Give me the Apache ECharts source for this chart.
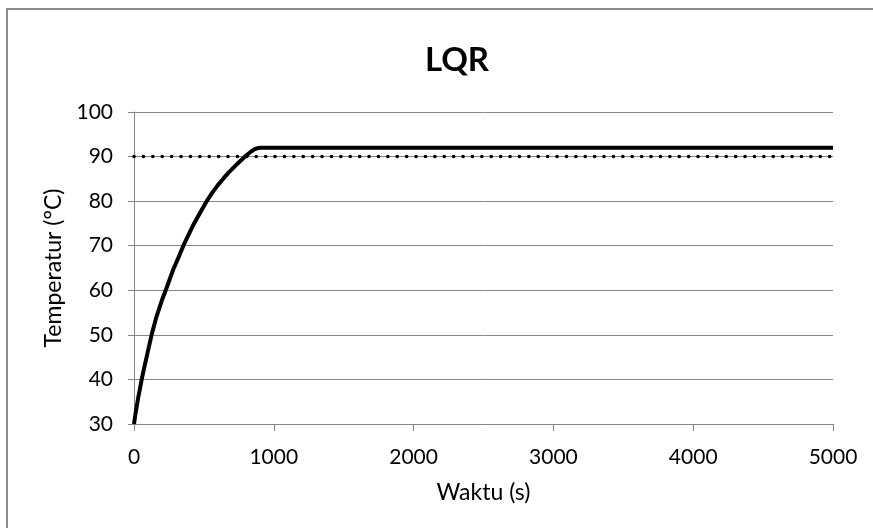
<!DOCTYPE html>
<html>
<head>
<meta charset="utf-8">
<title>LQR</title>
<script src="https://cdn.jsdelivr.net/npm/echarts@6/dist/echarts.min.js"></script>
<style>
  html, body { margin: 0; padding: 0; background: #fff; }
  #chart { width: 873px; height: 528px; }
</style>
</head>
<body>
<div id="chart"></div>
<script>
// data
const waktu = [0, 10, 20, 30, 40, 55, 70, 80, 100, 126, 160, 200, 227, 280, 320, 353, 400, 430, 480, 520, 560, 600, 640, 680, 740, 794, 820, 840, 860, 880, 900, 920, 950, 1000, 2000, 3000, 4000, 5000];
const suhu = [30, 32.2, 34, 35.9, 37.5, 40, 42.2, 43.6, 46.4, 50, 54, 57.8, 60, 64.6, 67.5, 70, 73.1, 75, 77.8, 80, 81.9, 83.6, 85.1, 86.5, 88.4, 90, 90.7, 91.2, 91.6, 91.85, 91.97, 92, 92, 92, 92, 92, 92, 92];
const setpointWaktu = [0, 5000];
const setpointSuhu = [90, 90];

const chart = echarts.init(document.getElementById('chart'));

const font = 'Lato';

const option = {
    animation: false,
    backgroundColor: '#fff',
    title: {
        text: 'LQR',
        left: 452,
        top: 39,
        textAlign: 'center',
        textStyle: { fontFamily: font, fontWeight: 'bold', fontSize: 33, color: '#000' }
    },
    grid: { left: 134, right: 40, top: 112, bottom: 104 },
    xAxis: {
        type: 'value',
        min: 0,
        max: 5000,
        interval: 1000,
        name: 'Waktu (s)',
        nameLocation: 'middle',
        nameGap: 57,
        nameTextStyle: { fontFamily: font, fontSize: 23, color: '#000' },
        axisLine: { lineStyle: { color: '#868686', width: 1 } },
        axisTick: { show: true, length: 7, lineStyle: { color: '#868686' } },
        axisLabel: { fontFamily: font, fontSize: 21, color: '#000', margin: 23, formatter: v => String(v) },
        splitLine: { show: false }
    },
    yAxis: {
        type: 'value',
        min: 30,
        max: 100,
        interval: 10,
        name: 'Temperatur (°C)',
        nameLocation: 'middle',
        nameGap: 68,
        nameTextStyle: { fontFamily: font, fontSize: 23, color: '#000' },
        axisLine: { show: true, lineStyle: { color: '#868686', width: 1 } },
        axisTick: { show: true, length: 6, lineStyle: { color: '#868686' } },
        axisLabel: { fontFamily: font, fontSize: 21, color: '#000', margin: 21 },
        splitLine: { lineStyle: { color: '#868686', width: 1 } }
    },
    graphic: [{
        type: 'rect',
        shape: { x: 7, y: 9, width: 900, height: 560 },
        style: { fill: 'none', stroke: '#8a8a8a', lineWidth: 2 },
        silent: true
    }],
    series: [
        {
            name: 'Setpoint',
            type: 'line',
            data: setpointWaktu.map((t, i) => [t, setpointSuhu[i]]),
            symbol: 'none',
            lineStyle: { color: '#000', width: 3.6, type: [0.1, 9.3], cap: 'round' },
            z: 2
        },
        {
            name: 'LQR',
            type: 'line',
            data: waktu.map((t, i) => [t, suhu[i]]),
            symbol: 'none',
            lineStyle: { color: '#000', width: 4, join: 'round' },
            z: 3
        }
    ]
};

chart.setOption(option);
</script>
</body>
</html>
